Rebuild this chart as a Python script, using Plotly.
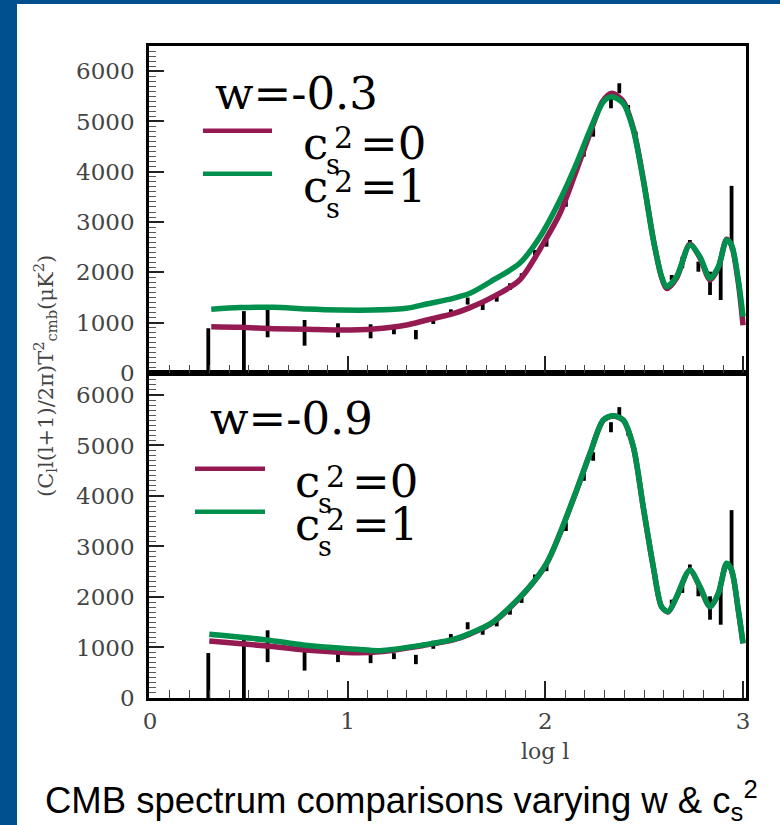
import plotly.graph_objects as go

# ---------------- data ----------------
# binned data points with error bars (log l, lower, upper) in muK^2
err_x = [0.295, 0.475, 0.595, 0.782, 0.951, 1.116, 1.234, 1.345, 1.433, 1.522, 1.607,
         1.683, 1.754, 1.821, 1.88, 1.947, 2.006, 2.104, 2.195, 2.242, 2.332, 2.374,
         2.419, 2.457, 2.639, 2.693, 2.731, 2.774, 2.833, 2.887, 2.942]
err_lo = [0, 0, 710, 543, 710, 690, 770, 670, 974, 1133, 1360,
          1252, 1418, 1650, 1883, 2346, 2511, 3306, 4300, 4698, 5262, 5560,
          5195, 4666, 1849, 2081, 2511, 2014, 1551, 1451, 2450]
err_hi = [890, 1230, 1340, 1054, 988, 968, 888, 855, 1133, 1266, 1500,
          1418, 1584, 1783, 1982, 2445, 2644, 3473, 4467, 4865, 5461, 5759,
          5328, 4798, 1948, 2312, 2644, 2213, 2014, 2312, 3720]

# w = -0.3 panel
top_cs1_x = [0.31, 0.455, 0.624, 0.793, 0.961, 1.13, 1.298, 1.4, 1.534, 1.619, 1.737, 1.87,
             1.973, 2.074, 2.158, 2.226, 2.293, 2.335, 2.394, 2.445, 2.495, 2.546, 2.588,
             2.613, 2.664, 2.731, 2.782, 2.833, 2.875, 2.917, 2.942, 2.976, 3.0]
top_cs1_y = [1266, 1300, 1306, 1272, 1252, 1252, 1286, 1372, 1485, 1584, 1849, 2180,
             2710, 3440, 4170, 4830, 5390, 5490, 5360, 4830, 3840, 2650, 1915,
             1716, 1915, 2545, 2312, 1883, 2113, 2644, 2545, 1850, 1120]
top_cs0_x = [0.31, 0.455, 0.624, 0.793, 0.961, 1.13, 1.298, 1.4, 1.534, 1.619, 1.737, 1.87,
             1.99, 2.074, 2.158, 2.226, 2.29, 2.335, 2.394, 2.445, 2.495, 2.546, 2.588,
             2.613, 2.664, 2.731, 2.782, 2.833, 2.875, 2.917, 2.942, 2.976, 3.0]
top_cs0_y = [920, 908, 881, 868, 855, 875, 954, 1054, 1180, 1300, 1517, 1849,
             2578, 3175, 4036, 4765, 5400, 5560, 5400, 4860, 3860, 2660, 1900,
             1680, 1890, 2560, 2290, 1850, 2090, 2660, 2530, 1800, 950]

# w = -0.9 panel
bot_cs1_x = [0.30, 0.59, 0.776, 1.045, 1.163, 1.382, 1.534, 1.62, 1.737, 1.905, 2.006,
             2.074, 2.158, 2.226, 2.293, 2.343, 2.394, 2.445, 2.495, 2.546, 2.588, 2.621,
             2.664, 2.731, 2.782, 2.833, 2.875, 2.917, 2.942, 2.976, 3.0]
bot_cs1_y = [1261, 1149, 1050, 964, 937, 1050, 1160, 1280, 1511, 2139, 2667,
             3261, 4119, 4845, 5505, 5590, 5505, 4977, 3788, 2600, 1808, 1709,
             2006, 2535, 2204, 1808, 2071, 2667, 2535, 1743, 1083]
bot_cs0_x = [0.30, 0.59, 0.776, 1.045, 1.163, 1.382, 1.534, 1.62, 1.737, 1.905, 2.006,
             2.074, 2.158, 2.226, 2.293, 2.343, 2.394, 2.445, 2.495, 2.546, 2.588, 2.621,
             2.664, 2.731, 2.782, 2.833, 2.875, 2.917, 2.942, 2.976, 3.0]
bot_cs0_y = [1129, 1030, 955, 895, 915, 1040, 1150, 1270, 1500, 2130, 2660,
             3255, 4110, 4840, 5500, 5585, 5500, 4970, 3780, 2595, 1805, 1705,
             2000, 2530, 2200, 1805, 2065, 2660, 2530, 1740, 1080]

x_ticks = [0, 1, 2, 3]
y_ticks = [0, 1000, 2000, 3000, 4000, 5000, 6000]
panel_titles = ["w=-0.3", "w=-0.9"]
series_names = ["0", "1"]

# ---------------- style ----------------
MAG = "#951A52"
GRN = "#00904D"
BLUE = "#00508F"
L, R, T, B = 149, 34, 46, 127
W, H = 780, 825
PW, PH = W - L - R, H - T - B


def pp(px, py):
    return (px - L) / PW, (H - B - py) / PH


def err_segments(xs, lo, hi):
    X, Y = [], []
    for x, a, b in zip(xs, lo, hi):
        X += [x, x, None]
        Y += [a, b, None]
    return X, Y


fig = go.Figure()
ex, ey = err_segments(err_x, err_lo, err_hi)
for ax, (cx0, cy0, cx1, cy1) in [("2", (top_cs0_x, top_cs0_y, top_cs1_x, top_cs1_y)),
                                 ("", (bot_cs0_x, bot_cs0_y, bot_cs1_x, bot_cs1_y))]:
    xa, ya = "x" + ax, "y" + ax
    fig.add_trace(go.Scatter(x=ex, y=ey, mode="lines", line=dict(color="black", width=3.8),
                             xaxis=xa, yaxis=ya, showlegend=False, hoverinfo="skip"))
    fig.add_trace(go.Scatter(x=cx0, y=cy0, mode="lines", line=dict(color=MAG, width=5.5, shape="spline", smoothing=0.8),
                             xaxis=xa, yaxis=ya, showlegend=False, name="cs2=0"))
    fig.add_trace(go.Scatter(x=cx1, y=cy1, mode="lines", line=dict(color=GRN, width=5.5, shape="spline", smoothing=0.8),
                             xaxis=xa, yaxis=ya, showlegend=False, name="cs2=1"))

tickfont = dict(family="DejaVu Serif", size=23, color="#444")
xcommon = dict(range=[-0.005, 3.015], tickvals=x_ticks, ticks="inside", ticklen=17, tickwidth=1.5,
               tickcolor="#222", minor=dict(dtick=0.1, tick0=0, ticks="inside", ticklen=8, tickwidth=1.3, tickcolor="#444"),
               showline=True, linewidth=2.5, linecolor="black", mirror=True, showgrid=False, zeroline=False,
               tickfont=tickfont, ticklabelstandoff=1)
ycommon = dict(tickvals=y_ticks, ticks="inside", ticklen=15, tickwidth=1.5, tickcolor="#222",
               minor=dict(dtick=100, tick0=0, ticks="inside", ticklen=7, tickwidth=1.3, tickcolor="#555"),
               showline=True, linewidth=2.5, linecolor="black", mirror=True, showgrid=False, zeroline=False,
               tickfont=tickfont, ticklabelstandoff=7)

split = (H - B - 373) / PH
fig.update_layout(
    width=W, height=H, margin=dict(l=L, r=R, t=T, b=B),
    paper_bgcolor="white", plot_bgcolor="white", showlegend=False,
    xaxis=dict(domain=[0, 1], anchor="y", **xcommon),
    xaxis2=dict(domain=[0, 1], anchor="y2", matches="x", showticklabels=False, **xcommon),
    yaxis=dict(domain=[0, split], anchor="x", range=[0, 6435], **ycommon),
    yaxis2=dict(domain=[split, 1], anchor="x2", range=[0, 6500], **ycommon),
)

shapes = []
# blue slide border (left and top)
x0, y0 = pp(0, 825)
x1, y1 = pp(17, 0)
shapes.append(dict(type="rect", xref="paper", yref="paper", x0=x0, x1=x1, y0=y0, y1=y1,
                   fillcolor=BLUE, line=dict(width=0), layer="above"))
x0, y0 = pp(0, 4)
x1, y1 = pp(780, 0)
shapes.append(dict(type="rect", xref="paper", yref="paper", x0=x0, x1=x1, y0=y0, y1=y1,
                   fillcolor=BLUE, line=dict(width=0), layer="above"))

ann = []
big = dict(family="DejaVu Serif", size=45, color="black")
sm = dict(family="DejaVu Serif", size=27, color="black")
sup = dict(family="DejaVu Serif", size=30, color="black")


def add_text(px, py, text, font, xanchor="left", yanchor="middle", angle=0):
    x, y = pp(px, py)
    ann.append(dict(x=x, y=y, xref="paper", yref="paper", text=text, showarrow=False,
                    xanchor=xanchor, yanchor=yanchor, font=font, textangle=angle))


def legend_block(tx, ty, lx0, lx1, ly, title, cx, cy):
    add_text(tx, ty, title, big)
    for i, (col, val) in enumerate([(MAG, series_names[0]), (GRN, series_names[1])]):
        yy = ly + i * 43
        a, b = pp(lx0, yy)
        c, d = pp(lx1, yy)
        shapes.append(dict(type="line", xref="paper", yref="paper", x0=a, x1=c, y0=b, y1=d,
                           line=dict(color=col, width=4.5)))
        ry = cy + i * 43
        add_text(cx, ry - 4, "c", big)
        add_text(cx + 23, ry + 18, "s", sm)
        add_text(cx + 31, ry - 9, "2", sup)
        add_text(cx + 57, ry - 4, "=" + val, big)


legend_block(213, 93, 203, 272, 130.7, panel_titles[0], 301, 147)
legend_block(208, 419, 195, 265, 468.7, panel_titles[1], 293, 485)

# axis titles and caption
add_text(45, 376, "(C<sub>l</sub>l(l+1)/2π)T<sup>2</sup><sub>cmb</sub>(μK<sup>2</sup>)",
         dict(family="DejaVu Serif", size=21, color="#444"), xanchor="center", angle=-90)
add_text(545, 751, "log l", dict(family="DejaVu Serif", size=22, color="#444"), xanchor="center")
add_text(401, 800, "CMB spectrum comparisons varying w &amp; c<sub>s</sub><sup>2</sup>",
         dict(family="Liberation Sans, Arial", size=36.5, color="black"), xanchor="center")

fig.update_layout(shapes=shapes, annotations=ann)
fig.write_html("out.html")
